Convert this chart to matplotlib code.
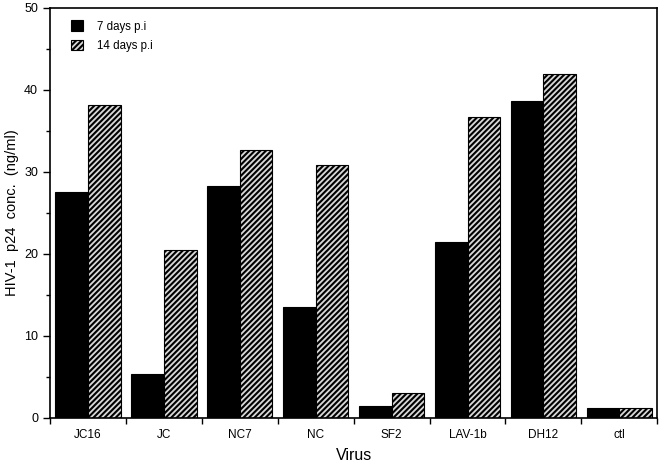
import numpy as np
import matplotlib
matplotlib.use('Agg')
import matplotlib.pyplot as plt

plt.rcParams['font.family'] = 'Liberation Sans'
plt.rcParams['hatch.linewidth'] = 1.5

viruses = ['JC16', 'JC', 'NC7', 'NC', 'SF2', 'LAV-1b', 'DH12', 'ctl']
days7 = [27.6, 5.3, 28.3, 13.5, 1.5, 21.4, 38.7, 1.2]
days14 = [38.2, 20.5, 32.7, 30.8, 3.0, 36.7, 42.0, 1.2]

fig = plt.figure(figsize=(6.63, 4.69), dpi=100)
ax = fig.add_axes([0.0754, 0.109, 0.916, 0.874])

x = np.arange(len(viruses))
w = 0.43
ax.bar(x - w / 2, days7, w, color='black', edgecolor='black', linewidth=0.8,
       label='7 days p.i')
ax.bar(x + w / 2, days14, w, color='#d8d8d8', edgecolor='black', linewidth=0.8,
       hatch='//////', label='14 days p.i')

ax.set_xlim(-0.5, len(viruses) - 0.5)
ax.set_ylim(0, 50)
ax.set_yticks([0, 10, 20, 30, 40, 50])
ax.set_yticks([5, 15, 25, 35, 45], minor=True)
ax.set_xticks(x)
ax.set_xticklabels(viruses, fontsize=8.5)
ax.set_xticks(np.arange(len(viruses) + 1) - 0.5, minor=True)
ax.tick_params(axis='x', which='major', length=0, pad=8)
ax.tick_params(axis='x', which='minor', length=4, width=1, direction='out')
ax.tick_params(axis='y', which='major', length=5, width=1, labelsize=9)
ax.tick_params(axis='y', which='minor', length=3, width=1)

for s in ax.spines.values():
    s.set_linewidth(1.2)

ax.set_ylabel('HIV-1  p24  conc.  (ng/ml)', fontsize=10.5, labelpad=4)
ax.set_xlabel('Virus', fontsize=11.5, labelpad=5)

ax.legend(loc='upper left', bbox_to_anchor=(0.018, 0.995), frameon=False,
          fontsize=8.3, handlelength=1.0, handleheight=1.0, handletextpad=1.2,
          labelspacing=0.65)

fig.savefig('out.png', dpi=100)
